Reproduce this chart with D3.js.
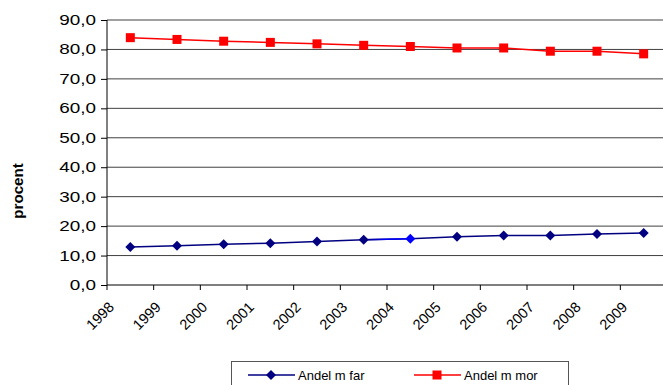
<!DOCTYPE html>
<html>
<head>
<meta charset="utf-8">
<script src="https://cdn.jsdelivr.net/npm/d3@7"></script>
<style>
  html, body { margin: 0; padding: 0; background: #fff; }
  svg { display: block; }
  text { font-family: "Liberation Sans", Arial, sans-serif; }
</style>
</head>
<body>
<svg id="chart" width="663" height="385"></svg>
<script>
const years = ["1998","1999","2000","2001","2002","2003","2004","2005","2006","2007","2008","2009"];
const farValues = [12.9, 13.3, 13.8, 14.2, 14.8, 15.4, 15.7, 16.4, 16.8, 16.8, 17.3, 17.7];
const morValues = [84.0, 83.4, 82.8, 82.4, 81.9, 81.4, 81.0, 80.5, 80.5, 79.4, 79.4, 78.5];
const yTicks = [0, 10, 20, 30, 40, 50, 60, 70, 80, 90];
const seriesNames = ["Andel m far", "Andel m mor"];
const highlightedFarYear = "2004";
const yTitle = "procent";

const svg = d3.select("#chart");
const W = 663, H = 385;
const pLeft = 107, pRight = 667, pTop = 20, pBottom = 285;

const x = d3.scaleBand().domain(years).range([pLeft, pRight]).paddingInner(0).paddingOuter(0);
const y = d3.scaleLinear().domain([0, 90]).range([pBottom, pTop]);
const fmt = v => d3.format(".1f")(v).replace(".", ",");
const cx = yr => x(yr) + x.bandwidth() / 2;

function stretchText(sel, k) {
  sel.each(function() {
    const L = this.getComputedTextLength();
    d3.select(this).attr("textLength", L * k).attr("lengthAdjust", "spacingAndGlyphs");
  });
}

// gridlines
svg.append("g").selectAll("line").data(yTicks.filter(t => t > 0)).join("line")
  .attr("x1", pLeft).attr("x2", W + 10)
  .attr("y1", d => y(d)).attr("y2", d => y(d))
  .attr("stroke", "#404040").attr("stroke-width", 1);

// y axis
const yAxis = d3.axisLeft(y).tickValues(yTicks).tickFormat(fmt).tickSize(6).tickPadding(5);
const gy = svg.append("g").attr("transform", `translate(${pLeft},0)`).call(yAxis);
gy.select(".domain").attr("stroke", "#000").attr("d", `M0,${y(90)}V${y(0)}`);
gy.selectAll(".tick line").attr("stroke", "#000");
gy.selectAll(".tick text").attr("font-size", 14).attr("fill", "#000")
  .attr("font-family", "'Liberation Sans', Arial, sans-serif").call(stretchText, 1.35);

// x axis with ticks at category boundaries
const bounds = years.map(yr => x(yr));
const gx = svg.append("g");
gx.append("line").attr("x1", pLeft).attr("x2", W + 10).attr("y1", y(0)).attr("y2", y(0))
  .attr("stroke", "#000");
gx.selectAll("line.t").data(bounds).join("line").attr("class", "t")
  .attr("x1", d => d).attr("x2", d => d).attr("y1", y(0)).attr("y2", y(0) + 5)
  .attr("stroke", "#000");
gx.selectAll("text").data(years).join("text")
  .attr("transform", d => `translate(${x(d) + 8},${y(0) + 23}) rotate(-45)`)
  .attr("text-anchor", "end").attr("font-size", 14.5).attr("fill", "#000")
  .text(d => d);

// y title
svg.append("text")
  .attr("transform", `translate(23,191) rotate(-90)`)
  .attr("text-anchor", "middle").attr("font-size", 14).attr("font-weight", "bold")
  .attr("fill", "#000").text(yTitle).call(stretchText, 1.08);

// lines
const line = d3.line().x((d, i) => cx(years[i])).y(d => y(d));
const navy = "#000080", red = "#FF0000", bright = "#0000FF";

svg.append("path").datum(morValues).attr("d", line).attr("fill", "none")
  .attr("stroke", red).attr("stroke-width", 1.5);
svg.append("path").datum(farValues).attr("d", line).attr("fill", "none")
  .attr("stroke", navy).attr("stroke-width", 1.5);

// highlighted segment around selected point
const hi = years.indexOf(highlightedFarYear);
const grad = svg.append("defs").append("linearGradient").attr("id", "hg")
  .attr("gradientUnits", "userSpaceOnUse")
  .attr("x1", cx(years[hi - 1])).attr("x2", cx(years[hi])).attr("y1", 0).attr("y2", 0);
grad.append("stop").attr("offset", "0").attr("stop-color", navy);
grad.append("stop").attr("offset", "0.5").attr("stop-color", bright);
grad.append("stop").attr("offset", "1").attr("stop-color", bright);
svg.append("line")
  .attr("x1", cx(years[hi - 1])).attr("y1", y(farValues[hi - 1]))
  .attr("x2", cx(years[hi])).attr("y2", y(farValues[hi]))
  .attr("stroke", "url(#hg)").attr("stroke-width", 1.5);

// markers
const diamondPath = "M0,-5L5,0L0,5L-5,0Z";
svg.append("g").selectAll("rect").data(morValues).join("rect")
  .attr("x", (d, i) => cx(years[i]) - 4.5).attr("y", d => y(d) - 4.5)
  .attr("width", 9).attr("height", 9).attr("fill", red);
svg.append("g").selectAll("path").data(farValues).join("path")
  .attr("transform", (d, i) => `translate(${cx(years[i])},${y(d)})`)
  .attr("d", diamondPath)
  .attr("fill", (d, i) => years[i] === highlightedFarYear ? bright : navy);

// legend
const lg = svg.append("g");
lg.append("rect").attr("x", 231.5).attr("y", 361.5).attr("width", 337).attr("height", 40)
  .attr("fill", "#fff").attr("stroke", "#555");
const items = [
  { name: seriesNames[0], color: navy, x0: 248, shape: "diamond" },
  { name: seriesNames[1], color: red, x0: 414, shape: "square" }
];
const ly = 375;
items.forEach(it => {
  lg.append("line").attr("x1", it.x0).attr("x2", it.x0 + 47).attr("y1", ly).attr("y2", ly)
    .attr("stroke", it.color).attr("stroke-width", 1.5);
  if (it.shape === "diamond") {
    lg.append("path").attr("transform", `translate(${it.x0 + 23},${ly})`).attr("d", diamondPath)
      .attr("fill", it.color);
  } else {
    lg.append("rect").attr("x", it.x0 + 23 - 4.5).attr("y", ly - 4.5).attr("width", 9).attr("height", 9)
      .attr("fill", it.color);
  }
  lg.append("text").attr("x", it.x0 + 50).attr("y", ly + 4.5).attr("font-size", 13)
    .attr("fill", "#000").text(it.name);
});
</script>
</body>
</html>
